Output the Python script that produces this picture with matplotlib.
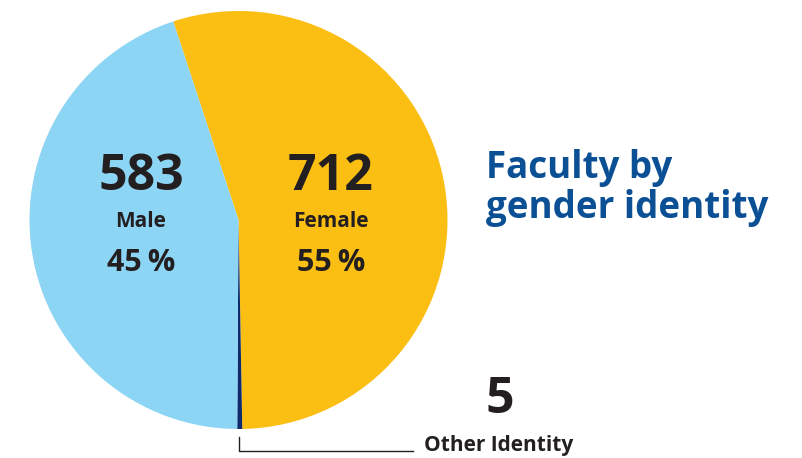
import matplotlib.pyplot as plt

# data
labels = ["Female", "Other Identity", "Male"]
counts = [712, 5, 583]
colors = ["#fbbf13", "#0d2a6b", "#8dd5f5"]

title = "Faculty by\ngender identity"
ink = "#231f20"
blue = "#0b4f94"

plt.rcParams['font.family'] = ['Open Sans', 'DejaVu Sans']

fig = plt.figure(figsize=(8.03, 4.58), dpi=100)
ax = fig.add_axes([0, 0, 1, 1])

H = 458
ax.pie(counts, colors=colors, startangle=108.2, counterclock=False,
       center=(238.5, H - 220), radius=209,
       wedgeprops=dict(linewidth=0))

# pie resets the view, so set pixel limits afterwards
ax.set_xlim(0, 803)
ax.set_ylim(0, 458)
ax.set_aspect('equal')
ax.axis('off')

total = sum(counts)
pct = [round(c / total * 100) for c in counts]

# Female / Male labels inside the pie
for i, x in [(0, 331), (2, 141)]:
    ax.text(x, H - 177, str(counts[i]), ha='center', va='center',
            fontsize=36, fontweight='bold', color=ink)
    ax.text(x, H - 221, labels[i], ha='center', va='center',
            fontsize=15, fontweight='bold', color=ink)
    ax.text(x, H - 263, f"{pct[i]}\u2009%", ha='center', va='center',
            fontsize=22, fontweight='bold', color=ink)

# Other identity with leader line
ax.plot([239, 239, 413], [H - 437, H - 451, H - 451], color=ink, lw=1)
ax.text(500, H - 400, str(counts[1]), ha='center', va='center',
        fontsize=36, fontweight='bold', color=ink)
ax.text(499, H - 446, labels[1], ha='center', va='center',
        fontsize=15, fontweight='bold', color=ink)

ax.text(486, H - 188, title, ha='left', va='center', fontsize=26.5,
        fontweight='bold', color=blue, linespacing=1.1)

fig.savefig("out.png", dpi=100)
